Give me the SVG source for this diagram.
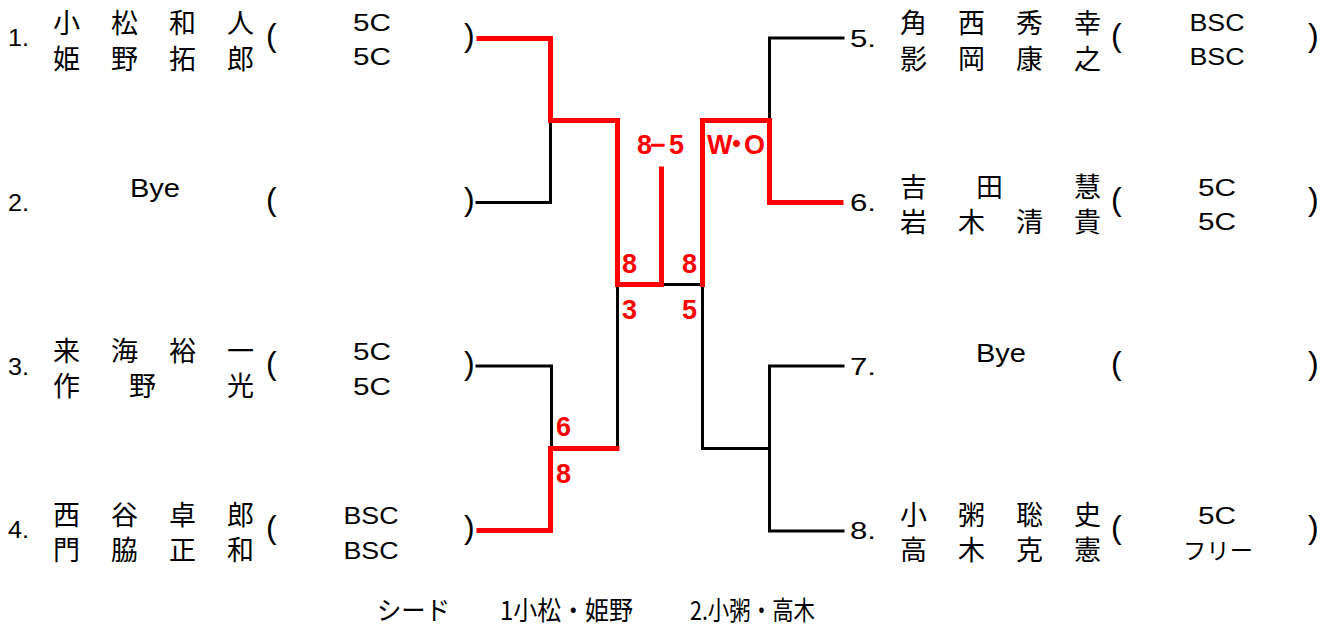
<svg xmlns="http://www.w3.org/2000/svg" width="1333" height="633" viewBox="0 0 1333 633">
<style>
.num{font-family:"Liberation Sans",Arial,sans-serif;font-size:24px;fill:#000}
.nm{font-family:"Noto Sans CJK JP","Noto Sans CJK SC",sans-serif;font-size:27px;fill:#000}
.club{font-family:"Liberation Sans","Noto Sans CJK JP",sans-serif;font-size:23px;fill:#000;text-anchor:middle}
.par{font-family:"Liberation Sans",Arial,sans-serif;font-size:32px;fill:#000}
.bye{font-family:"Liberation Sans",Arial,sans-serif;font-size:26px;fill:#000;text-anchor:middle}
.sc{font-family:"Liberation Sans",Arial,"Noto Sans CJK JP",sans-serif;font-size:27px;font-weight:bold;fill:#FF0000}
.ft{font-family:"Noto Sans CJK JP","Noto Sans CJK SC",sans-serif;font-size:26px;fill:#000}
.bk{fill:none;stroke:#000;stroke-width:3;stroke-linecap:square}
.rd{fill:none;stroke:#FF0000;stroke-width:5;stroke-linecap:square}
</style>
<rect width="1333" height="633" fill="#fff"/>
<g id="connectors">
  <polyline class="bk" points="477,202.5 550.5,202.5 550.5,121"/>
  <polyline class="bk" points="477,366 551.5,366 551.5,448"/>
  <line class="bk" x1="617.5" y1="286" x2="617.5" y2="448"/>
  <line class="bk" x1="664" y1="284.5" x2="702" y2="284.5"/>
  <polyline class="bk" points="702.5,286 702.5,448.5 769.5,448.5"/>
  <polyline class="bk" points="843,38 769.5,38 769.5,120"/>
  <polyline class="bk" points="843,366 769.5,366 769.5,531 843,531"/>
  <polyline class="rd" points="479,38.5 550.5,38.5 550.5,120.5 617.5,120.5 617.5,284.5 661.5,284.5 661.5,169"/>
  <polyline class="rd" points="702.5,284.5 702.5,120.5 769.5,120.5 769.5,202.5 841,202.5"/>
  <polyline class="rd" points="479,530.5 550.5,530.5 550.5,448.5 617,448.5"/>
</g>
<g id="scores">
  <text class="sc" x="637 650 669" y="154">8−5</text>
  <text class="sc" x="707 723 744" y="154">W・O</text>
  <text class="sc" x="622" y="273">8</text>
  <text class="sc" x="682" y="273">8</text>
  <text class="sc" x="622" y="319">3</text>
  <text class="sc" x="682" y="319">5</text>
  <text class="sc" x="556" y="436">6</text>
  <text class="sc" x="556" y="483">8</text>
</g>
<g id="p1">
  <text class="num" x="8" y="46" textLength="21" lengthAdjust="spacingAndGlyphs">1.</text>
  <text class="nm" x="53 111 169 227" y="33">小松和人</text>
  <text class="nm" x="53 111 169 227" y="69">姫野拓郎</text>
  <text class="par" x="266" y="46">(</text>
  <text class="club" x="372" y="31" textLength="38" lengthAdjust="spacingAndGlyphs">5C</text>
  <text class="club" x="372" y="65" textLength="38" lengthAdjust="spacingAndGlyphs">5C</text>
  <text class="par" x="464" y="46">)</text>
</g>
<g id="p2">
  <text class="num" x="8" y="211" textLength="21" lengthAdjust="spacingAndGlyphs">2.</text>
  <text class="bye" x="155" y="197" textLength="50" lengthAdjust="spacingAndGlyphs">Bye</text>
  <text class="par" x="266" y="210">(</text>
  <text class="par" x="464" y="210">)</text>
</g>
<g id="p3">
  <text class="num" x="8" y="375" textLength="21" lengthAdjust="spacingAndGlyphs">3.</text>
  <text class="nm" x="53 111 169 227" y="361">来海裕一</text>
  <text class="nm" x="53 129 227" y="396">作野光</text>
  <text class="par" x="266" y="374">(</text>
  <text class="club" x="372" y="360" textLength="38" lengthAdjust="spacingAndGlyphs">5C</text>
  <text class="club" x="372" y="395" textLength="38" lengthAdjust="spacingAndGlyphs">5C</text>
  <text class="par" x="464" y="374">)</text>
</g>
<g id="p4">
  <text class="num" x="8" y="538" textLength="21" lengthAdjust="spacingAndGlyphs">4.</text>
  <text class="nm" x="53 111 169 227" y="525">西谷卓郎</text>
  <text class="nm" x="53 111 169 227" y="560">門脇正和</text>
  <text class="par" x="266" y="538">(</text>
  <text class="club" x="371" y="524" textLength="55" lengthAdjust="spacingAndGlyphs">BSC</text>
  <text class="club" x="371" y="559" textLength="55" lengthAdjust="spacingAndGlyphs">BSC</text>
  <text class="par" x="464" y="538">)</text>
</g>
<g id="p5">
  <text class="num" x="850" y="47" textLength="26" lengthAdjust="spacingAndGlyphs">5.</text>
  <text class="nm" x="900 958 1016 1074" y="33">角西秀幸</text>
  <text class="nm" x="900 958 1016 1074" y="69">影岡康之</text>
  <text class="par" x="1111" y="46">(</text>
  <text class="club" x="1217" y="31" textLength="55" lengthAdjust="spacingAndGlyphs">BSC</text>
  <text class="club" x="1217" y="65" textLength="55" lengthAdjust="spacingAndGlyphs">BSC</text>
  <text class="par" x="1308" y="46">)</text>
</g>
<g id="p6">
  <text class="num" x="850" y="211" textLength="26" lengthAdjust="spacingAndGlyphs">6.</text>
  <text class="nm" x="900 976 1074" y="197">吉田慧</text>
  <text class="nm" x="900 958 1016 1074" y="232">岩木清貴</text>
  <text class="par" x="1111" y="210">(</text>
  <text class="club" x="1217" y="196" textLength="38" lengthAdjust="spacingAndGlyphs">5C</text>
  <text class="club" x="1217" y="230" textLength="38" lengthAdjust="spacingAndGlyphs">5C</text>
  <text class="par" x="1308" y="210">)</text>
</g>
<g id="p7">
  <text class="num" x="850" y="375" textLength="26" lengthAdjust="spacingAndGlyphs">7.</text>
  <text class="bye" x="1001" y="362" textLength="50" lengthAdjust="spacingAndGlyphs">Bye</text>
  <text class="par" x="1111" y="374">(</text>
  <text class="par" x="1308" y="374">)</text>
</g>
<g id="p8">
  <text class="num" x="850" y="539" textLength="26" lengthAdjust="spacingAndGlyphs">8.</text>
  <text class="nm" x="900 958 1016 1074" y="525">小粥聡史</text>
  <text class="nm" x="900 958 1016 1074" y="560">高木克憲</text>
  <text class="par" x="1111" y="538">(</text>
  <text class="club" x="1217" y="524" textLength="38" lengthAdjust="spacingAndGlyphs">5C</text>
  <text class="club" x="1218" y="559" textLength="70" lengthAdjust="spacingAndGlyphs">フリー</text>
  <text class="par" x="1308" y="538">)</text>
</g>
<g id="footer">
  <text class="ft" x="377" y="620" textLength="73" lengthAdjust="spacingAndGlyphs">シード</text>
  <text class="ft" x="500" y="620" textLength="133" lengthAdjust="spacingAndGlyphs">1小松・姫野</text>
  <text class="ft" x="690" y="620" textLength="125" lengthAdjust="spacingAndGlyphs">2.小粥・高木</text>
</g>
</svg>
